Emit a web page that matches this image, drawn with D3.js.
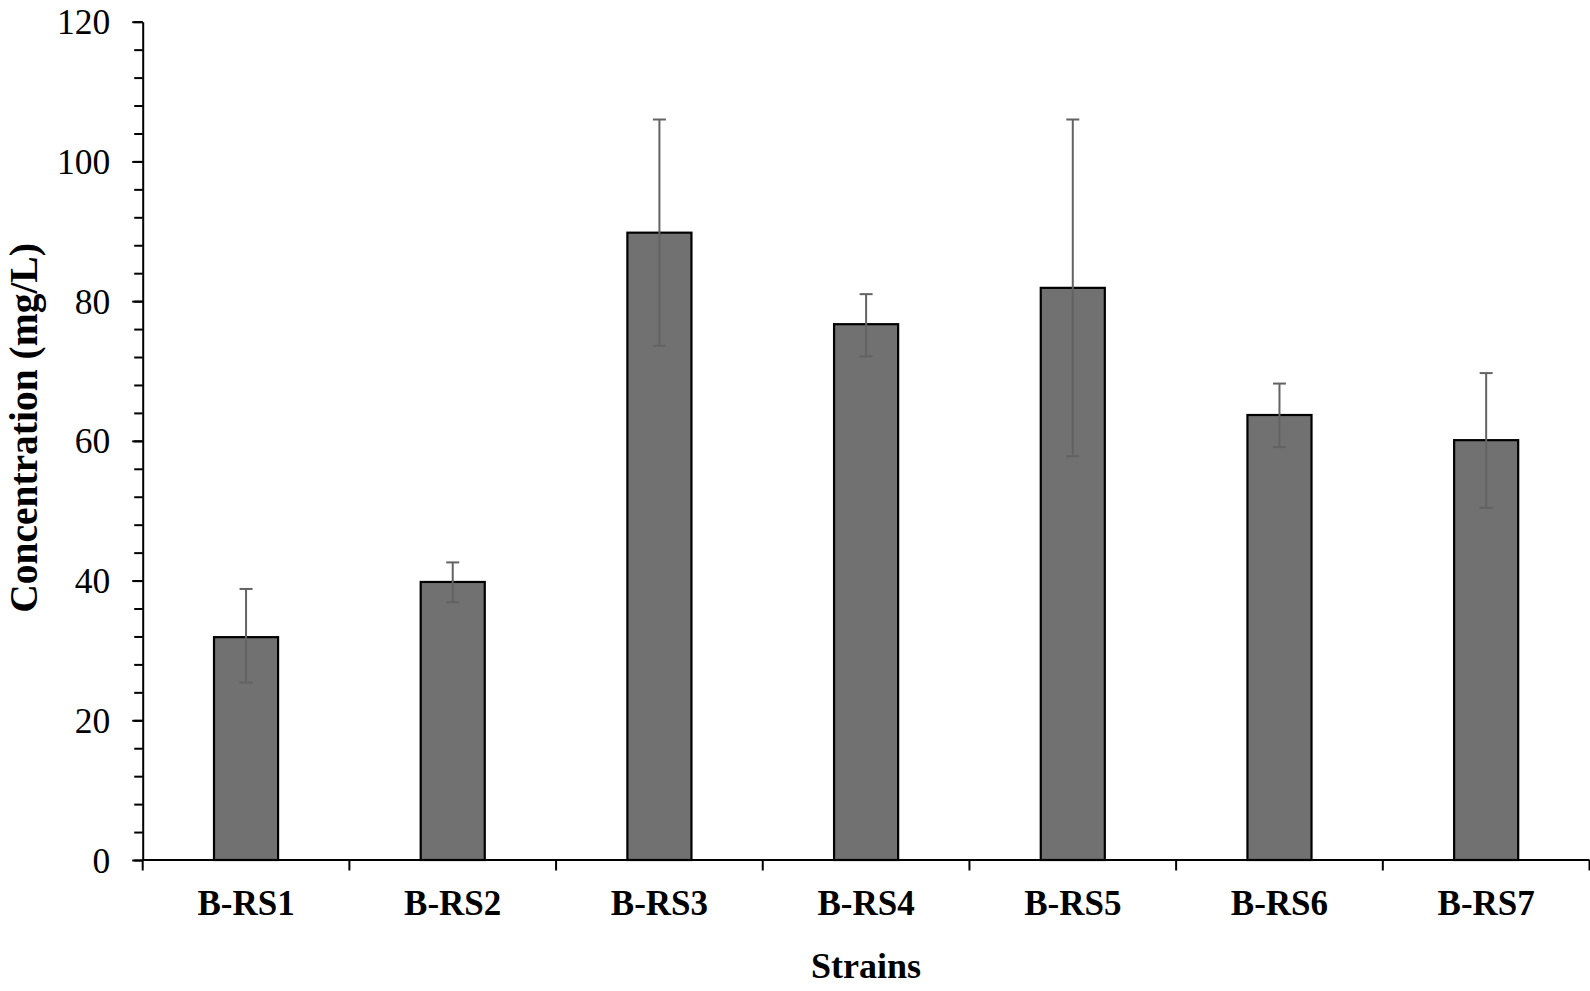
<!DOCTYPE html>
<html>
<head>
<meta charset="utf-8">
<script src="https://cdn.jsdelivr.net/npm/d3@7"></script>
<style>
	body { margin: 0; background: #fff; }
	svg { display: block; }
	text { font-family: "Liberation Serif", "Times New Roman", serif; fill: #000; }
</style>
</head>
<body>
<svg id="chart" width="1590" height="991"></svg>
<script>
// data
var strains = ["B-RS1", "B-RS2", "B-RS3", "B-RS4", "B-RS5", "B-RS6", "B-RS7"];
var concentration = [31.9, 39.8, 89.8, 76.7, 81.9, 63.7, 60.1];
var errUpper = [38.8, 42.6, 106.0, 81.0, 106.0, 68.2, 69.7];
var errLower = [25.4, 36.9, 73.6, 72.1, 57.8, 59.1, 50.4];
var yTicks = [0, 20, 40, 60, 80, 100, 120];
var yMinorTicks = d3.range(0, 121, 4);

(function() {
	var svg = d3.select("#chart");
	// plot box (note: "top" is reserved on window, so use pl/pr/pt/pb)
	var pl = 142.7, pr = 1589.5, pt = 21.7, pb = 860;

	var x = d3.scaleBand().domain(strains).range([pl, pr]).padding(0);
	var y = d3.scaleLinear().domain([0, 120]).range([pb, pt]);
	var barW = x.bandwidth() * 0.31;

	// bars
	svg.append("g").selectAll("rect")
		.data(strains)
		.enter()
			.append("rect")
			.attr("x", function(d) { return x(d) + (x.bandwidth() - barW) / 2; })
			.attr("y", function(d, i) { return y(concentration[i]); })
			.attr("width", barW)
			.attr("height", function(d, i) { return y(0) - y(concentration[i]); })
			.style("fill", "#717171")
			.style("stroke", "#000")
			.style("stroke-width", 2.2);

	// error bars
	var eb = svg.append("g").style("stroke", "#636363").style("stroke-width", 2);
	strains.forEach(function(d, i) {
		var cx = x(d) + x.bandwidth() / 2;
		eb.append("line").attr("x1", cx).attr("x2", cx).attr("y1", y(errUpper[i])).attr("y2", y(errLower[i]));
		eb.append("line").attr("x1", cx - 6.5).attr("x2", cx + 6.5).attr("y1", y(errUpper[i])).attr("y2", y(errUpper[i]));
		eb.append("line").attr("x1", cx - 6.5).attr("x2", cx + 6.5).attr("y1", y(errLower[i])).attr("y2", y(errLower[i]));
	});

	// y axis: minor ticks first, then major ticks with labels
	var yMinor = svg.append("g")
		.attr("transform", "translate(" + pl + ",0)")
		.call(d3.axisLeft(y).tickValues(yMinorTicks).tickSize(8.5).tickFormat("").tickSizeOuter(0));
	yMinor.select(".domain").remove();
	yMinor.selectAll("line").style("stroke", "#000").style("stroke-width", 2);

	var yAxis = svg.append("g")
		.attr("transform", "translate(" + pl + ",0)")
		.call(d3.axisLeft(y).tickValues(yTicks).tickSize(10.5).tickPadding(22).tickSizeOuter(0));
	yAxis.select(".domain").style("stroke", "#000").style("stroke-width", 2);
	yAxis.selectAll("line").style("stroke", "#000").style("stroke-width", 2);
	yAxis.selectAll("text")
		.style("font-family", "'Liberation Serif', 'Times New Roman', serif")
		.style("font-size", "35.5px")
		.attr("dy", "0.34em");

	// x axis: ticks at band boundaries
	var xAxis = svg.append("g").attr("transform", "translate(0," + pb + ")");
	xAxis.append("line")
		.attr("x1", pl).attr("x2", pr)
		.style("stroke", "#000").style("stroke-width", 2);
	xAxis.selectAll("line.tk")
		.data(strains.concat(["end"]))
		.enter()
			.append("line")
			.attr("class", "tk")
			.attr("x1", function(d, i) { return pl + i * x.bandwidth(); })
			.attr("x2", function(d, i) { return pl + i * x.bandwidth(); })
			.attr("y1", 0).attr("y2", 10.5)
			.style("stroke", "#000").style("stroke-width", 2);
	xAxis.selectAll("text")
		.data(strains)
		.enter()
			.append("text")
			.attr("x", function(d) { return x(d) + x.bandwidth() / 2; })
			.attr("y", 55)
			.attr("text-anchor", "middle")
			.style("font-size", "35px")
			.style("font-weight", "bold")
			.text(function(d) { return d; });

	// axis titles
	svg.append("text")
		.attr("x", (pl + pr) / 2)
		.attr("y", 978)
		.attr("text-anchor", "middle")
		.style("font-size", "36px")
		.style("font-weight", "bold")
		.text("Strains");

	svg.append("text")
		.attr("transform", "translate(37,428) rotate(-90)")
		.attr("text-anchor", "middle")
		.style("font-size", "39.5px")
		.style("font-weight", "bold")
		.text("Concentration (mg/L)");
})();
</script>
</body>
</html>
